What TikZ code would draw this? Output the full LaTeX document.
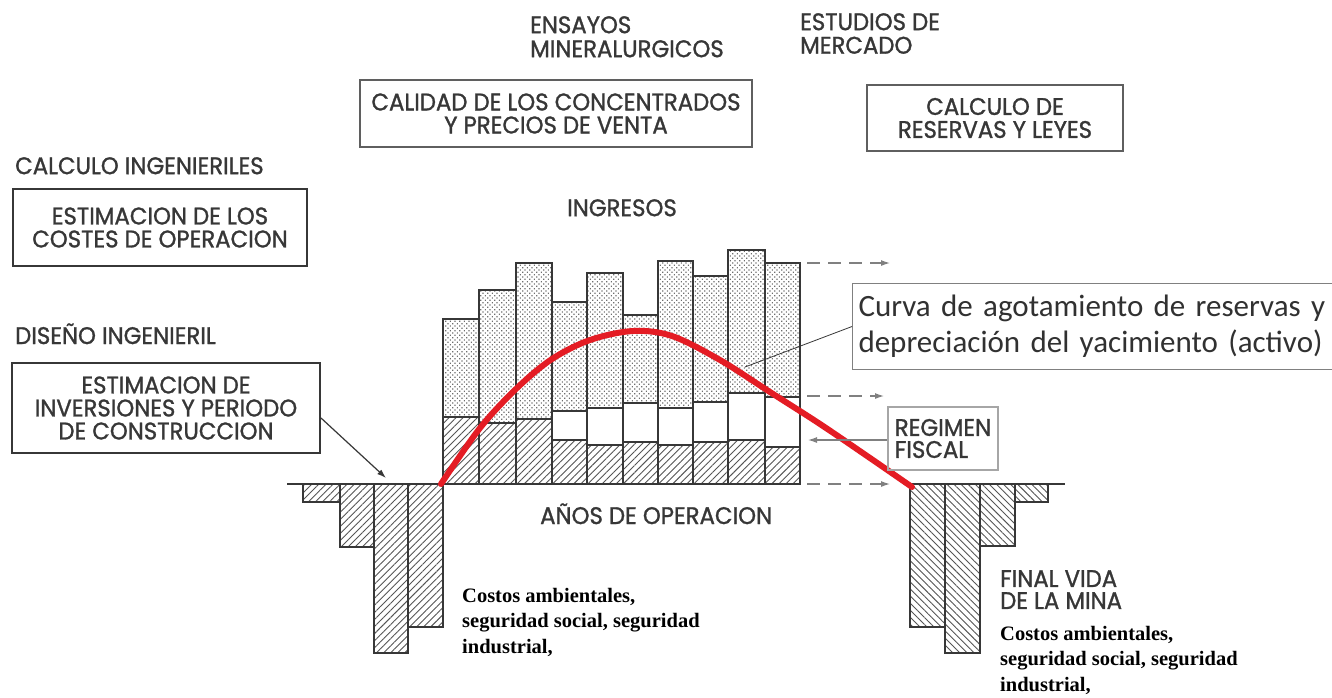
\documentclass[tikz,border=0pt]{standalone}
\usepackage{fontspec}
\usetikzlibrary{patterns.meta,arrows.meta}
\newfontfamily\capsf[FakeStretch=0.95,FakeBold=1.2]{Poppins}
\newfontfamily\calib{Carlito}
\newfontfamily\serb{Liberation Serif}
\definecolor{ink}{RGB}{55,55,55}
\definecolor{redc}{RGB}{228,28,36}
\definecolor{hatchc}{RGB}{85,85,85}
\definecolor{dotc}{RGB}{110,110,110}
\tikzset{
  capsfont/.style={font=\capsf\fontsize{24}{23}\selectfont},
  lab/.style={capsfont, text=ink, inner sep=0pt, align=left},
  boxthin/.style={capsfont, text=ink, draw=ink!80, line width=1.3pt, align=center, inner sep=0pt},
  boxthick/.style={capsfont, text=ink, draw=ink, line width=2pt, align=center, inner sep=0pt},
  serlab/.style={font=\serb\bfseries\fontsize{20.5}{25.5}\selectfont, text=black, inner sep=0pt, align=left},
  barline/.style={draw=ink, line width=1.2pt},
  hatchR/.style={barline, pattern={Lines[angle=45,distance=5pt,line width=0.9pt]}, pattern color=hatchc},
  hatchL/.style={barline, pattern={Lines[angle=-45,distance=5pt,line width=0.9pt]}, pattern color=hatchc},
  dotfill/.style={barline, pattern={Dots[radius=0.85pt,distance=3.3pt,angle=45]}, pattern color=dotc},
  dasharrow/.style={draw=gray, line width=1.2pt, dash pattern=on 13pt off 8pt, -{Latex[length=9pt,width=6pt]}},
  solarrow/.style={draw=gray, line width=1.2pt, -{Latex[length=9pt,width=6pt]}},
  baseln/.style={draw=ink, line width=2.4pt},
}
\begin{document}
\begin{tikzpicture}[x=1pt,y=-1pt]
\useasboundingbox (0,0) rectangle (1332,697);
\fill[white] (0,0) rectangle (1332,697);

% ---- positive bars (operation years)
\foreach \xa/\xb/\tp/\wt/\ht in {443/479/319/417/417, 479/516/290/423/423, 516/552/263/419/419,
  552/587/302/411/440, 587/623/273/408/445, 623/658/315/403/442, 658/693/261/408/445,
  693/728/276/402/442, 728/765/250/393/440, 765/800/263/397/447}{
  \draw[dotfill] (\xa,\tp) rectangle (\xb,\wt);
  \draw[barline, fill=white] (\xa,\wt) rectangle (\xb,\ht);
  \draw[hatchR] (\xa,\ht) rectangle (\xb,484);
}
% ---- negative bars, construction
\foreach \xa/\xb/\bt in {303/340/502, 340/374/547, 374/408/653, 408/443/627}{
  \draw[hatchR] (\xa,484) rectangle (\xb,\bt);
}
% ---- negative bars, closure
\foreach \xa/\xb/\bt in {910/945/627, 945/980/653, 980/1015/546, 1015/1048/502}{
  \draw[hatchL] (\xa,484) rectangle (\xb,\bt);
}
% ---- base lines
\coordinate (b0) at (287,484);
\coordinate (b1) at (800,484);
\coordinate (b2) at (905,484);
\coordinate (b3) at (1065,484);
\draw[baseln] (b0) -- (b1);
\draw[baseln] (b2) -- (b3);

% ---- dashed arrows to the right
\coordinate (t0) at (807,263); \coordinate (t1) at (890,263);
\coordinate (m0) at (807,396); \coordinate (m1) at (884,396);
\coordinate (l0) at (807,484); \coordinate (l1) at (890,484);
\draw[dasharrow] (t0) -- (t1);
\draw[dasharrow] (m0) -- (m1);
\draw[dasharrow] (l0) -- (l1);

% ---- red curve
\draw[redc, line width=6pt, line cap=round] plot[smooth, tension=0.55] coordinates {
 (441,484) (480,428) (517,388) (552,359) (590,340) (633,331) (672,336) (720,360) (770,392) (820,424) (870,458) (912,487)};

% ---- headers
\node[lab, anchor=north west, font=\capsf\fontsize{24}{24}\selectfont] (ens) at (530,16) {ENSAYOS\\MINERALURGICOS};
\node[lab, anchor=north west, font=\capsf\fontsize{24}{23.5}\selectfont] (est) at (800,13) {ESTUDIOS DE\\MERCADO};
\node[boxthin, minimum width=392pt, minimum height=67pt] (cal) at (556,113.5) {CALIDAD DE LOS CONCENTRADOS\\Y PRECIOS DE VENTA};
\node[boxthin, minimum width=256pt, minimum height=66pt] (res) at (995,118) {CALCULO DE\\RESERVAS Y LEYES};
\node[lab, anchor=north west] (cin) at (15,157) {CALCULO INGENIERILES};
\node[boxthick, minimum width=294pt, minimum height=77pt] (cos) at (160,227.5) {ESTIMACION DE LOS\\COSTES DE OPERACION};
\node[lab, anchor=north west] (ing) at (567,199) {INGRESOS};
\node[lab, anchor=base west] (dis) at (15,344) {DISEÑO INGENIERIL};
\node[boxthick, minimum width=308pt, minimum height=90pt] (inv) at (166,408) {ESTIMACION DE\\INVERSIONES Y PERIODO\\DE CONSTRUCCION};
\node[lab, anchor=base west] (anos) at (540,524) {AÑOS DE OPERACION};
\node[boxthin, draw=gray!70, minimum width=110pt, minimum height=63pt, align=left,
      font=\capsf\fontsize{24}{22}\selectfont] (reg) at (943,438.5) {REGIMEN\\FISCAL};
\node[lab, anchor=north west, font=\capsf\fontsize{24}{22}\selectfont] (fin) at (1000,570) {FINAL VIDA\\DE LA MINA};

% ---- serif notes
\node[serlab, anchor=north west] (c1) at (462,588) {Costos ambientales,\\seguridad social, seguridad\\industrial,};
\node[serlab, anchor=north west] (c2) at (1000,626) {Costos ambientales,\\seguridad social, seguridad\\industrial,};

% ---- callout
\node[draw=gray, line width=1pt, fill=white, anchor=north west, minimum height=86pt,
      text width=500pt, inner xsep=6pt, align=left, text=ink!90!black,
      font=\calib\fontsize{31}{36}\selectfont] (cv) at (852,283)
      {Curva de agotamiento de reservas y\\depreciación del yacimiento (activo)};
\coordinate (cp) at (745,367);
\draw[ink, line width=0.8pt] (cv.west) -- (cp);

% ---- other arrows
\coordinate (ia) at (386,478);
\draw[solarrow, draw=ink] (inv.east |- 0,418) -- (ia);
\coordinate (ra) at (808,440);
\draw[solarrow] (reg.west |- ra) -- (ra);
\end{tikzpicture}
\end{document}
